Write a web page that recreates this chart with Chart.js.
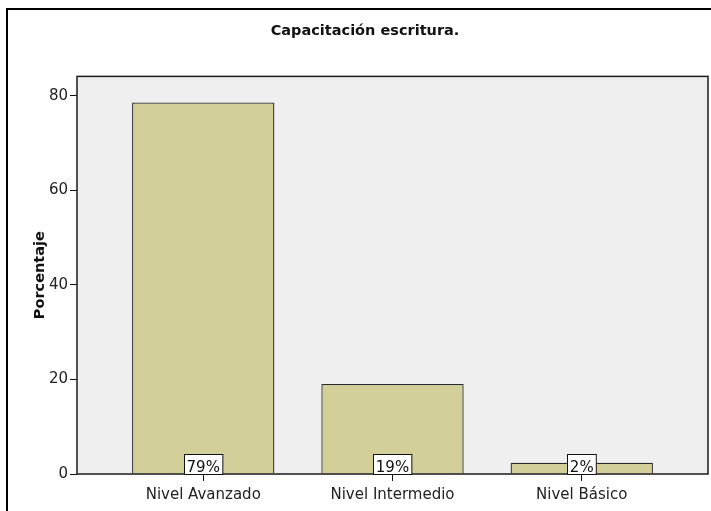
<!DOCTYPE html>
<html>
<head>
<meta charset="utf-8">
<title>Capacitación escritura.</title>
<script src="https://cdn.jsdelivr.net/npm/chart.js@4.4.0/dist/chart.umd.min.js"></script>
<style>
  html, body { margin: 0; padding: 0; background: #fff; }
  #wrap { width: 711px; height: 511px; }
</style>
</head>
<body>
<div id="wrap"><canvas id="chart" width="711" height="511"></canvas></div>
<script>
// Bar chart data
const categories = ['Nivel Avanzado', 'Nivel Intermedio', 'Nivel Básico'];
const percentages = [78.57, 19.05, 2.38];
const yTicks = [0, 20, 40, 60, 80];

const FONT = '"DejaVu Sans", Verdana, sans-serif';

// Grey plot background, plot frame and outer frame
const framePlugin = {
    id: 'frames',
    beforeDraw(chart) {
        const ctx = chart.ctx;
        const a = chart.chartArea;
        ctx.save();
        ctx.fillStyle = '#fff';
        ctx.fillRect(0, 0, chart.width, chart.height);
        ctx.fillStyle = '#efefef';
        ctx.fillRect(a.left, a.top, a.right - a.left, a.bottom - a.top);
        // outer border (runs off the right and bottom edges)
        ctx.strokeStyle = '#000';
        ctx.lineWidth = 2;
        ctx.beginPath();
        ctx.moveTo(7, chart.height);
        ctx.lineTo(7, 9);
        ctx.lineTo(chart.width, 9);
        ctx.stroke();
        ctx.restore();
    },
    afterDatasetsDraw(chart) {
        const ctx = chart.ctx;
        const a = chart.chartArea;
        ctx.save();
        ctx.strokeStyle = '#1a1a1a';
        ctx.lineWidth = 1.5;
        ctx.strokeRect(a.left, a.top, a.right - a.left, a.bottom - a.top);
        ctx.restore();
    }
};

// White percentage boxes sitting on the base of each bar
const valueBoxPlugin = {
    id: 'valueBoxes',
    afterDraw(chart) {
        const ctx = chart.ctx;
        const base = chart.chartArea.bottom;
        const meta = chart.getDatasetMeta(0);
        ctx.save();
        ctx.font = '15px ' + FONT;
        ctx.textAlign = 'center';
        ctx.textBaseline = 'alphabetic';
        meta.data.forEach((bar, i) => {
            const text = Math.round(percentages[i]) + '%';
            const w = ctx.measureText(text).width + 5;
            const h = 20;
            const x = Math.round(bar.x - w / 2) + 0.5;
            const y = base - h + 0.5;
            ctx.fillStyle = '#fff';
            ctx.fillRect(x, y, w, h);
            ctx.strokeStyle = '#111';
            ctx.lineWidth = 1;
            ctx.strokeRect(x, y, w, h);
            ctx.fillStyle = '#111';
            ctx.fillText(text, bar.x, base - 2);
        });
        ctx.restore();
    }
};

new Chart(document.getElementById('chart'), {
    type: 'bar',
    data: {
        datasets: [{
            label: 'Porcentaje',
            data: percentages.map((v, i) => ({ x: i, y: v })),
            backgroundColor: '#d3cf98',
            borderColor: '#2a2a2a',
            borderWidth: 1.3,
            borderSkipped: 'bottom',
            categoryPercentage: 1,
            barPercentage: 0.752
        }]
    },
    options: {
        responsive: false,
        animation: false,
        layout: { padding: { left: 22, right: 3, top: 0, bottom: 0 } },
        plugins: {
            legend: { display: false },
            tooltip: { enabled: false },
            title: {
                display: true,
                text: 'Capacitación escritura.',
                color: '#111',
                font: { family: FONT, size: 14.5, weight: 'bold' },
                padding: { top: 23, bottom: 36 }
            }
        },
        scales: {
            x: {
                type: 'linear',
                min: -0.667,
                max: 2.667,
                offset: false,
                afterBuildTicks: scale => {
                    scale.ticks = categories.map((c, i) => ({ value: i }));
                },
                afterFit: scale => { scale.height = 37; },
                grid: {
                    offset: false,
                    drawOnChartArea: false,
                    drawTicks: true,
                    tickLength: 7,
                    color: '#111'
                },
                border: { display: false },
                ticks: {
                    callback: value => categories[value],
                    color: '#222',
                    padding: 5,
                    maxRotation: 0,
                    autoSkip: false,
                    font: { family: FONT, size: 15 }
                }
            },
            y: {
                min: 0,
                max: 84.1,
                afterBuildTicks: scale => {
                    scale.ticks = yTicks.map(v => ({ value: v }));
                },
                afterFit: scale => { scale.width = 55; },
                grid: {
                    drawOnChartArea: false,
                    drawTicks: true,
                    tickLength: 7,
                    color: '#111'
                },
                border: { display: false },
                ticks: {
                    color: '#222',
                    padding: 2,
                    font: { family: FONT, size: 15 }
                },
                title: {
                    display: true,
                    text: 'Porcentaje',
                    color: '#111',
                    font: { family: FONT, size: 14.5, weight: 'bold' },
                    padding: { top: 10, bottom: 0 }
                }
            }
        }
    },
    plugins: [framePlugin, valueBoxPlugin]
});
</script>
</body>
</html>
